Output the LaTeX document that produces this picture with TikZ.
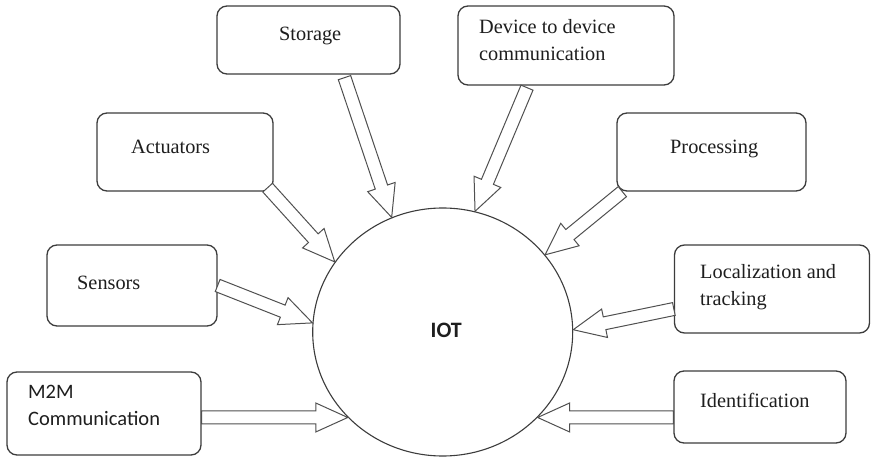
\documentclass[tikz,border=0pt]{standalone}
\usepackage{fontspec}
\setmainfont{Liberation Serif}
\newfontfamily\tnr{Liberation Serif}
\newfontfamily\calib{Carlito}
\usetikzlibrary{calc,shapes.geometric}
\definecolor{boxgray}{HTML}{3C3C3C}
\definecolor{arrgray}{HTML}{505050}
\definecolor{txtgray}{HTML}{1E1E1E}
\tikzset{
  box/.style={draw=boxgray, line width=1.3pt, rounded corners=10pt, fill=white, inner sep=0pt},
  lbl/.style={inner sep=0pt, font=\tnr\fontsize{20.3}{27}\selectfont, text=txtgray, align=left},
  blk/.style={draw=arrgray, line width=1pt, fill=white, line join=miter},
}
\newcommand\blockarr[2]{%
  \coordinate (hb) at ($(#2)!32pt!(#1)$);
  \draw[blk] ($(#1)!6.5pt!90:(#2)$) -- ($(hb)!6.5pt!90:(#2)$) -- ($(hb)!14.5pt!90:(#2)$)
    -- (#2) -- ($(hb)!14.5pt!-90:(#2)$) -- ($(hb)!6.5pt!-90:(#2)$) -- ($(#1)!6.5pt!-90:(#2)$) -- cycle;
}
\begin{document}
\begin{tikzpicture}[x=1pt,y=-1pt]
\useasboundingbox (0,0) rectangle (871,457);
% boxes
\node[box, minimum width=194pt, minimum height=83pt] (m2m) at (104,413.5) {};
\node[box, minimum width=170pt, minimum height=81pt] (sens) at (132,285.5) {};
\node[box, minimum width=176pt, minimum height=78pt] (act) at (185,152) {};
\node[box, minimum width=183pt, minimum height=68pt] (sto) at (308.5,40) {};
\node[box, minimum width=216pt, minimum height=79pt] (dev) at (566,45.5) {};
\node[box, minimum width=189pt, minimum height=78pt] (proc) at (711.5,152) {};
\node[box, minimum width=195pt, minimum height=88pt] (loc) at (772,289) {};
\node[box, minimum width=172pt, minimum height=72pt] (ident) at (760,407) {};
% circle
\node[ellipse, draw=boxgray, line width=1.1pt, fill=white, minimum width=260pt, minimum height=248pt, inner sep=0pt,
      font=\calib\bfseries\fontsize{22}{26}\selectfont, text=txtgray] (iot) at (442.7,332) {\raisebox{4pt}{\hspace{7pt}IOT}};
% texts
\node[lbl, anchor=west, font=\calib\fontsize{20.5}{27}\selectfont] (t1) at (28,405.5) {M2M\\Communication};
\node[lbl, anchor=base west] (t2) at (77,290) {Sensors};
\node[lbl, anchor=base west] (t3) at (131,154) {Actuators};
\node[lbl, anchor=base west] (t4) at (279,41) {Storage};
\node[lbl, anchor=west] (t5) at (479,40.5) {Device to device\\communication};
\node[lbl, anchor=base west] (t6) at (670,154) {Processing};
\node[lbl, anchor=west] (t7) at (700,287.5) {Localization and\\tracking};
\node[lbl, anchor=base west] (t8) at (700,407) {Identification};
% arrow ends
\coordinate (s1) at (m2m.east |- iot.222);
\coordinate (s2) at (sens.east);
\coordinate (s3) at ($(act.south east)+(-6,-4)$);
\coordinate (s4) at ($(sto.south)+(36,3)$);
\coordinate (s5) at ($(dev.south)+(-39,2)$);
\coordinate (s6) at ($(proc.south west)+(6,0)$);
\coordinate (s7) at ($(loc.west)+(0,20)$);
\coordinate (s8) at (ident.west |- iot.318);
\blockarr{s1}{iot.222}
\blockarr{s2}{iot.176}
\blockarr{s3}{iot.147}
\blockarr{s4}{iot.114}
\blockarr{s5}{iot.75}
\blockarr{s6}{iot.37}
\blockarr{s7}{iot.1}
\blockarr{s8}{iot.318}
\end{tikzpicture}
\end{document}
